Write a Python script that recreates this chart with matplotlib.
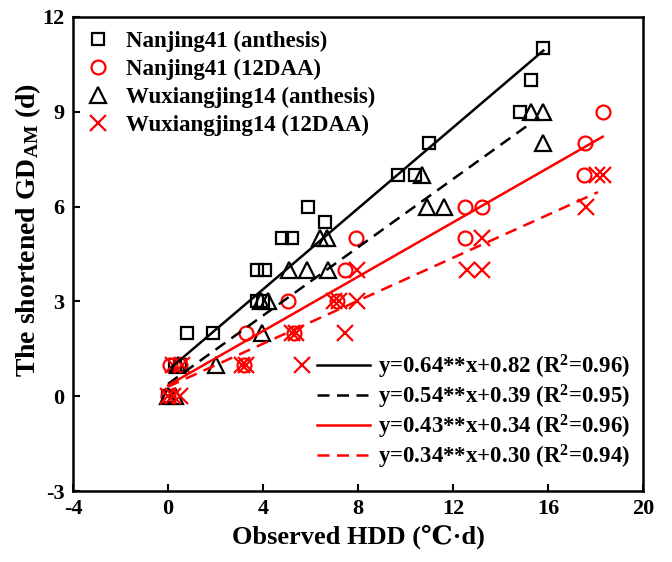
import matplotlib
matplotlib.use("Agg")
import matplotlib.pyplot as plt
from matplotlib.lines import Line2D
import numpy as np

plt.rcParams["font.family"] = ["Liberation Serif", "DejaVu Serif"]
plt.rcParams["font.weight"] = "bold"
plt.rcParams["axes.unicode_minus"] = False
plt.rcParams["mathtext.fontset"] = "custom"
plt.rcParams["mathtext.rm"] = "Liberation Serif:bold"
plt.rcParams["mathtext.it"] = "Liberation Serif:bold"
plt.rcParams["mathtext.bf"] = "Liberation Serif:bold"

# ── Daten ────────────────────────────────────────────────────────────────────
nj_anth_x = [0.0, 0.3, 0.5, 0.8, 1.9, 3.75, 4.0, 3.75, 4.1, 4.8, 5.2, 5.9, 6.6, 9.7, 10.4, 11.0, 14.8, 15.3, 15.8]
nj_anth_y = [0, 1, 1, 2, 2, 3, 3, 4, 4, 5, 5, 6, 5.5, 7, 7, 8, 9, 10, 11]

nj_12_x = [0.0, 0.1, 0.5, 3.2, 3.3, 5.05, 5.3, 7.1, 7.45, 7.9, 12.5, 12.5, 13.2, 17.5, 17.55, 18.3]
nj_12_y = [0, 1, 1, 1, 2, 3, 2, 3, 4, 5, 5, 6, 6, 7, 8, 9]

wx_anth_x = [0.0, 0.3, 0.4, 2.0, 3.95, 3.9, 4.2, 5.1, 5.85, 6.75, 6.4, 6.7, 10.7, 10.9, 11.6, 15.3, 15.8, 15.8]
wx_anth_y = [0, 0, 1, 1, 2, 3, 3, 4, 4, 4, 5, 5, 7, 6, 6, 9, 9, 8]

wx_12_x = [0.0, 0.2, 0.5, 0.2, 0.6, 3.1, 3.3, 5.65, 5.2, 5.4, 7.45, 7.0, 7.2, 7.95, 7.95, 12.6, 13.2, 13.2, 17.6, 18.05, 18.3]
wx_12_y = [0, 0, 0, 1, 1, 1, 1, 1, 2, 2, 2, 3, 3, 3, 4, 4, 4, 5, 6, 7, 7]

series_labels = ["Nanjing41 (anthesis)", "Nanjing41 (12DAA)",
                 "Wuxiangjing14 (anthesis)", "Wuxiangjing14 (12DAA)"]
slopes = [0.64, 0.54, 0.43, 0.34]
intercepts = [0.82, 0.39, 0.34, 0.30]
r2 = [0.96, 0.95, 0.96, 0.94]
fit_range = [(0.15, 15.8), (0.0, 15.3), (0.0, 18.3), (0.0, 18.1)]

# ── Plot ─────────────────────────────────────────────────────────────────────
fig = plt.figure(figsize=(6.72, 5.62), dpi=100)
ax = fig.add_axes([0.1086, 0.1263, 0.8484, 0.8437])

ms = 9
ax.plot(nj_anth_x, nj_anth_y, ls="none", marker="s", ms=ms, mfc="none", mec="black", mew=1.6)
ax.plot(nj_12_x, nj_12_y, ls="none", marker="o", ms=ms + 1, mfc="none", mec="red", mew=1.6)
ax.plot(wx_anth_x, wx_anth_y, ls="none", marker="^", ms=ms + 2, mfc="none", mec="black", mew=1.6)
ax.plot(wx_12_x, wx_12_y, ls="none", marker="x", ms=ms + 3, mec="red", mew=1.6)

line_styles = [("black", "-"), ("black", "--"), ("red", "-"), ("red", "--")]
eq_handles = []
eq_labels = []
for (c, ls), k, b, r, (x0, x1) in zip(line_styles, slopes, intercepts, r2, fit_range):
    xx = np.array([x0, x1])
    kw = dict(color=c, lw=1.8)
    if ls == "--":
        kw["dashes"] = (4.8, 3.0)
    ax.plot(xx, k * xx + b, **kw)
    eq_handles.append(Line2D([], [], **kw))
    eq_labels.append(f"y={k:.2f}**x+{b:.2f} (R$^2$={r:.2f})")

ax.set_xlim(-4, 20)
ax.set_ylim(-3, 12)
ax.set_xticks([-4, 0, 4, 8, 12, 16, 20])
ax.set_yticks([-3, 0, 3, 6, 9, 12])
ax.tick_params(direction="in", length=5, width=1.5, labelsize=16, pad=6)
for lbl in ax.get_xticklabels() + ax.get_yticklabels():
    lbl.set_fontweight("bold")
for sp in ax.spines.values():
    sp.set_linewidth(1.8)

ax.set_xlabel("Observed HDD (℃·d)", fontsize=19, fontweight="bold", labelpad=4)
ax.set_ylabel("The shortened GD$_{\\mathrm{AM}}$ (d)", fontsize=20, fontweight="bold")
ax.yaxis.set_label_coords(-0.052, 0.55)

marker_handles = [
    Line2D([], [], ls="none", marker="s", ms=ms, mfc="none", mec="black", mew=1.6),
    Line2D([], [], ls="none", marker="o", ms=ms + 1, mfc="none", mec="red", mew=1.6),
    Line2D([], [], ls="none", marker="^", ms=ms + 2, mfc="none", mec="black", mew=1.6),
    Line2D([], [], ls="none", marker="x", ms=ms + 3, mec="red", mew=1.6),
]
leg1 = ax.legend(marker_handles, series_labels, loc="upper left", frameon=False,
                 prop={"size": 16.5, "weight": "bold"}, handlelength=1.0,
                 handletextpad=0.7, labelspacing=0.3, borderaxespad=0.2)
ax.add_artist(leg1)
ax.legend(eq_handles, eq_labels, loc="lower right", bbox_to_anchor=(0.9886, 0.0285),
          frameon=False, prop={"size": 16.5, "weight": "bold"}, handlelength=2.3,
          handletextpad=0.35, labelspacing=0.08, borderaxespad=0.0,
          borderpad=0.3)

fig.savefig("out.png", dpi=100)
